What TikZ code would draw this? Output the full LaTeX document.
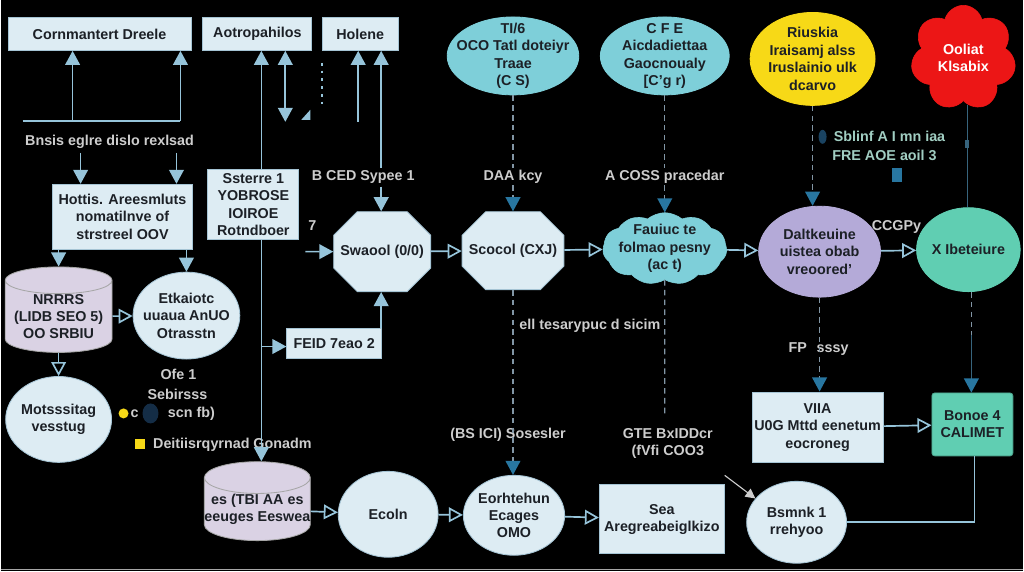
\documentclass[tikz,border=0pt]{standalone}
\usepackage{fontspec}
\setmainfont{Liberation Sans}
\usetikzlibrary{arrows.meta,shapes.geometric,shapes.misc,shapes.symbols}

\begin{document}
\begin{tikzpicture}[x=0.025cm,y=-0.025cm,font=\bfseries\fontsize{10.2}{12.4}\selectfont,>={Triangle[length=10pt,width=10.5pt]}]

\definecolor{bg_fill}{RGB}{0,0,0}
\definecolor{box_fill}{RGB}{221,236,243}
\definecolor{box_draw}{RGB}{165,196,212}
\definecolor{box_text}{RGB}{28,32,38}
\definecolor{cyan_fill}{RGB}{126,207,217}
\definecolor{yellow_fill}{RGB}{247,217,23}
\definecolor{red_fill}{RGB}{236,22,22}
\definecolor{lav_fill}{RGB}{180,170,216}
\definecolor{teal_fill}{RGB}{96,206,178}
\definecolor{db_fill}{RGB}{218,210,228}
\definecolor{edge_draw}{RGB}{150,196,218}
\definecolor{dash_draw}{RGB}{130,150,165}
\definecolor{dash_tip}{RGB}{40,118,160}
\definecolor{line_dark}{RGB}{55,100,125}
\definecolor{label_text}{RGB}{205,205,205}
\definecolor{navy_dot}{RGB}{20,45,70}

\tikzstyle{box_style}=[rectangle,draw=box_draw,fill=box_fill,text=box_text,line width=0.6pt,align=center,inner sep=1pt]
\tikzstyle{oval_style}=[ellipse,draw=box_draw,fill=box_fill,text=box_text,line width=0.6pt,align=center,inner sep=0pt]
\tikzstyle{db_style}=[cylinder,shape border rotate=90,shape aspect=0.3,draw=gray!70,fill=db_fill,text=box_text,line width=0.6pt,align=center,inner sep=0pt]
\tikzstyle{octo_style}=[chamfered rectangle,chamfered rectangle xsep=14pt,chamfered rectangle ysep=12pt,draw=box_draw,fill=box_fill,text=box_text,line width=0.6pt,align=center,inner sep=0pt]
\tikzstyle{label_style}=[text=label_text,inner sep=1pt,align=center]
\tikzstyle{edge_style}=[draw=edge_draw,line width=1.2pt]
\tikzstyle{dash_line}=[draw=dash_draw,line width=1pt,dash pattern=on 4pt off 3pt]
\tikzstyle{dash_arrow}=[dash_line,-{Triangle[length=10pt,width=10.5pt,color=dash_tip]}]

\fill[bg_fill] (0,0) rectangle (1024,572);
\draw[gray!70,line width=1pt] (0,570.5) -- (1024,570.5);

% top row
\node(commdraw) at (99,34) [box_style,minimum width=4.575cm,minimum height=0.825cm] {Cornmantert Dreele};
\node(autoph) at (257,34) [box_style,minimum width=2.725cm,minimum height=0.825cm] {Aotropahilos};
\node(holene) at (360,34) [box_style,minimum width=1.9cm,minimum height=0.825cm] {Holene};
\node(tif) at (513,56) [oval_style,fill=cyan_fill,draw=cyan_fill,inner sep=-7pt,minimum width=3.175cm,minimum height=1.95cm] {TI/6\\OCO Tatl doteiyr\\Traae\\(C S)};
\node(cfe) at (665,56) [oval_style,fill=cyan_fill,draw=cyan_fill,inner sep=-7pt,minimum width=3.225cm,minimum height=1.95cm] {C F E\\Aicdadiettaa\\Gaocnoualy\\{[}C'g r)};
\node(risk) at (813,59) [oval_style,fill=yellow_fill,draw=yellow_fill,minimum width=3.05cm,minimum height=2.325cm] {Riuskia\\Iraisamj alss\\Iruslainio ulk\\dcarvo};
\node(blob) at (964,58) [cloud,cloud puffs=7,cloud puff arc=150,fill=red_fill,draw=red_fill,text=white,align=center,minimum width=2.525cm,minimum height=2.325cm] {Ooliat\\Klsabix};

% left column
\coordinate(brL) at (22,121);
\coordinate(brA) at (72,121);
\coordinate(brB) at (180,121);
\draw[edge_style] (brL) -- (brB);
\draw[->,edge_style] (brA) -- (brA |- commdraw.south);
\draw[->,edge_style] (brB) -- (brB |- commdraw.south);

\node(bnsis) at (109,142) [label_style] {Bnsis eglre dislo rexlsad};
\node(hottis) at (122,217) [box_style,minimum width=3.5cm,minimum height=1.625cm] {Hottis. Areesmluts\\nomatilnve of\\strstreel OOV};
\coordinate(bnA) at (80,153);
\coordinate(bnB) at (176,153);
\draw[->,edge_style] (bnA) -- (bnA |- hottis.north);
\draw[->,edge_style] (bnB) -- (bnB |- hottis.north);

\node(nas) at (58,317) [db_style,minimum width=2.675cm,minimum height=1.925cm] {NRRRS\\(LIDB SEO 5)\\OO SRBIU};
\node(etka) at (186,316) [oval_style,inner sep=-4pt,minimum width=2.575cm,minimum height=2.175cm] {Etkaiotc\\uuaua AnUO\\Otrasstn};
\node(motss) at (58,420) [oval_style,minimum width=2.65cm,minimum height=2.15cm] {Motsssitag\\vesstug};
\coordinate(hoA) at (58,250);
\coordinate(hoB) at (186,250);
\draw[->,edge_style] (hoA |- hottis.south) -- (hoA |- nas.north);
\draw[->,edge_style] (hoB |- hottis.south) -- (hoB |- etka.north);
\draw[->,edge_style](nas) edge (etka);
\draw[->,edge_style](nas) edge (motss);

\node(ofe) at (178,375) [label_style] {Ofe 1};
\node(sebi) at (177,395) [label_style] {Sebirsss};
\fill[yellow_fill] (123,414) circle (5);
\node(cc) at (134,414) [label_style] {c};
\fill[navy_dot] (150,414) ellipse (8 and 10);
\node(scn) at (191,414) [label_style] {scn fb)};
\fill[yellow_fill] (134,440) rectangle (144,450);
\node(deit) at (232,445) [label_style] {Deitiisrqyrnad Gonadm};

% second column
\node(sserre) at (253,205) [box_style,minimum width=2.275cm,minimum height=1.75cm] {Ssterre 1\\YOBROSE\\IOIROE\\Rotndboer};
\node(feid) at (334,344) [box_style,minimum width=2.375cm,minimum height=0.75cm] {FEID 7eao 2};
\node(dbtwo) at (257,510) [db_style,minimum width=2.625cm,minimum height=1.875cm] {es (TBI AA es\\eeuges Eeswea};
\coordinate(ssX) at (261,205);
\coordinate(ssJoin) at (261,347);
\draw[->,edge_style] (ssX |- sserre.north) -- (ssX |- autoph.south);
\draw[->,edge_style] (ssX |- sserre.south) -- (ssX |- dbtwo.north);
\draw[->,edge_style] (ssJoin) -- (ssJoin -| feid.west);

\coordinate(dblX) at (285,122);
\draw[<->,edge_style] (dblX |- autoph.south) -- (dblX);
\fill[edge_draw] (301,120) -- (310,120) -- (310,110) -- cycle;
\draw[edge_draw,line width=1.5pt,dash pattern=on 2pt off 3.5pt] (322,63) -- (322,108);

\coordinate(hoC) at (358,122);
\coordinate(hoD) at (381,168);
\draw[->,edge_style] (hoC) -- (hoC |- holene.south);
\draw[->,edge_style] (hoD) -- (hoD |- holene.south);

% middle row
\node(bced) at (363,177) [label_style] {B CED Sypee 1};
\node(sseroel) at (382,252) [octo_style,minimum width=2.325cm,minimum height=2cm] {Swaool (0/0)};
\node(scocol) at (513,251) [octo_style,minimum width=2.325cm,minimum height=1.95cm] {Scocol (CXJ)};
\node(fauic) at (665,249) [cloud,cloud puffs=11,cloud puff arc=80,aspect=1.8,fill=cyan_fill,draw=cyan_fill,text=box_text,align=center,inner sep=-5pt,minimum width=3.1cm,minimum height=1.8cm] {Fauiuc te\\folmao pesny\\(ac t)};
\node(dalt) at (820,252) [oval_style,fill=lav_fill,draw=lav_fill,minimum width=3.05cm,minimum height=2.275cm] {Daltkeuine\\uistea obab\\vreoored'};
\node(xib) at (969,250) [oval_style,fill=teal_fill,draw=teal_fill,minimum width=2.45cm,minimum height=2.1cm] {X Ibeteiure};
\coordinate(bcX) at (381,187);
\draw[->,edge_style] (bcX) -- (bcX |- sseroel.north);
\draw[->,edge_style] (feid.north -| bcX) -- (bcX |- sseroel.south);
\node(tick) at (312,226) [label_style] {7};
\coordinate(inS) at (305,252);
\draw[->,edge_style] (inS) -- (sseroel);
\draw[->,edge_style](sseroel) edge (scocol);
\draw[->,edge_style](scocol) edge (fauic);
\draw[->,edge_style](fauic) edge (dalt);
\draw[->,edge_style](dalt) edge (xib);
\node(ccgpy) at (897,227) [label_style] {CCGPy};

\node(daa) at (513,177) [label_style] {DAA kcy};
\node(acoss) at (665,177) [label_style] {A COSS pracedar};
\draw[dash_line] (tif.south) -- (daa.north);
\draw[dash_arrow] (daa.south) -- (scocol.north);
\draw[dash_line] (cfe.south) -- (acoss.north);
\draw[dash_arrow] (acoss.south) -- (fauic);

\draw[dash_arrow] (risk.south) -- (risk.south |- dalt.north);
\fill[navy_dot!70!dash_tip] (823,137) ellipse (4 and 7);
\node(sblinf) at (890,137) [label_style,text=teal_fill!40!label_text] {Sblinf A I mn iaa};
\node(freaoe) at (885,156) [label_style,text=teal_fill!40!label_text] {FRE AOE aoil 3};
\fill[dash_tip] (893,168) rectangle (903,182);
\coordinate(redX) at (968,105);
\draw[line_dark,line width=1pt] (redX) -- (redX |- xib.north);
\fill[line_dark] (966,140) rectangle (970,148);

% lower part
\node(ell) at (590,326) [label_style] {ell tesarypuc d sicim};
\node(bsici) at (508,435) [label_style] {(BS ICI) Sosesler};
\node(gte) at (668,444) [label_style] {GTE BxIDDcr\\(fVfi COO3};
\coordinate(cfDash) at (665,418);
\draw[dash_line] (fauic.south) -- (cfDash);

\node(fp) at (819,350) [label_style] {FP\hspace{7pt}sssy};
\node(viia) at (818,428) [box_style,minimum width=3.275cm,minimum height=1.775cm] {VIIA\\U0G Mttd eenetum\\eocroneg};
\node(bonoe) at (973,425) [box_style,fill=teal_fill,draw=teal_fill!80!black,rounded corners=2pt,minimum width=2.025cm,minimum height=1.575cm] {Bonoe 4\\CALIMET};
\draw[dash_arrow] (dalt.south) -- (dalt.south |- viia.north);
\coordinate(gDash) at (972,335);
\draw[dash_line] (gDash |- xib.south) -- (gDash);
\draw[->,line_dark,line width=1pt,>={Triangle[length=10pt,width=10.5pt,color=dash_tip]}] (gDash) -- (gDash |- bonoe.north);
\draw[->,edge_style](viia) edge (bonoe);

% bottom row
\node(ecoln) at (388,515) [oval_style,minimum width=2.5cm,minimum height=2.15cm] {Ecoln};
\node(eorh) at (514,516) [oval_style,minimum width=2.475cm,minimum height=2cm] {Eorhtehun\\Ecages\\OMO};
\node(sea) at (662,520) [box_style,minimum width=3.125cm,minimum height=1.725cm] {Sea\\Aregreabeiglkizo};
\node(bsmnk) at (797,523) [oval_style,minimum width=2.5cm,minimum height=2.05cm] {Bsmnk 1\\rrehyoo};
\draw[->,edge_style](dbtwo) edge (ecoln);
\draw[->,edge_style](ecoln) edge (eorh);
\draw[->,edge_style](eorh) edge (sea);
\draw[dash_arrow] (scocol.south) -- (scocol.south |- eorh.north);
\coordinate(diagS) at (725,476);
\draw[->,draw=label_text,line width=0.8pt,>={Triangle[length=7pt,width=7pt]}] (diagS) -- (bsmnk.150);
\coordinate(bnCorner) at (975,523);
\draw[edge_style] (bonoe.south -| bnCorner) -- (bnCorner) -- (bnCorner -| bsmnk.east);

\end{tikzpicture}
\end{document}
